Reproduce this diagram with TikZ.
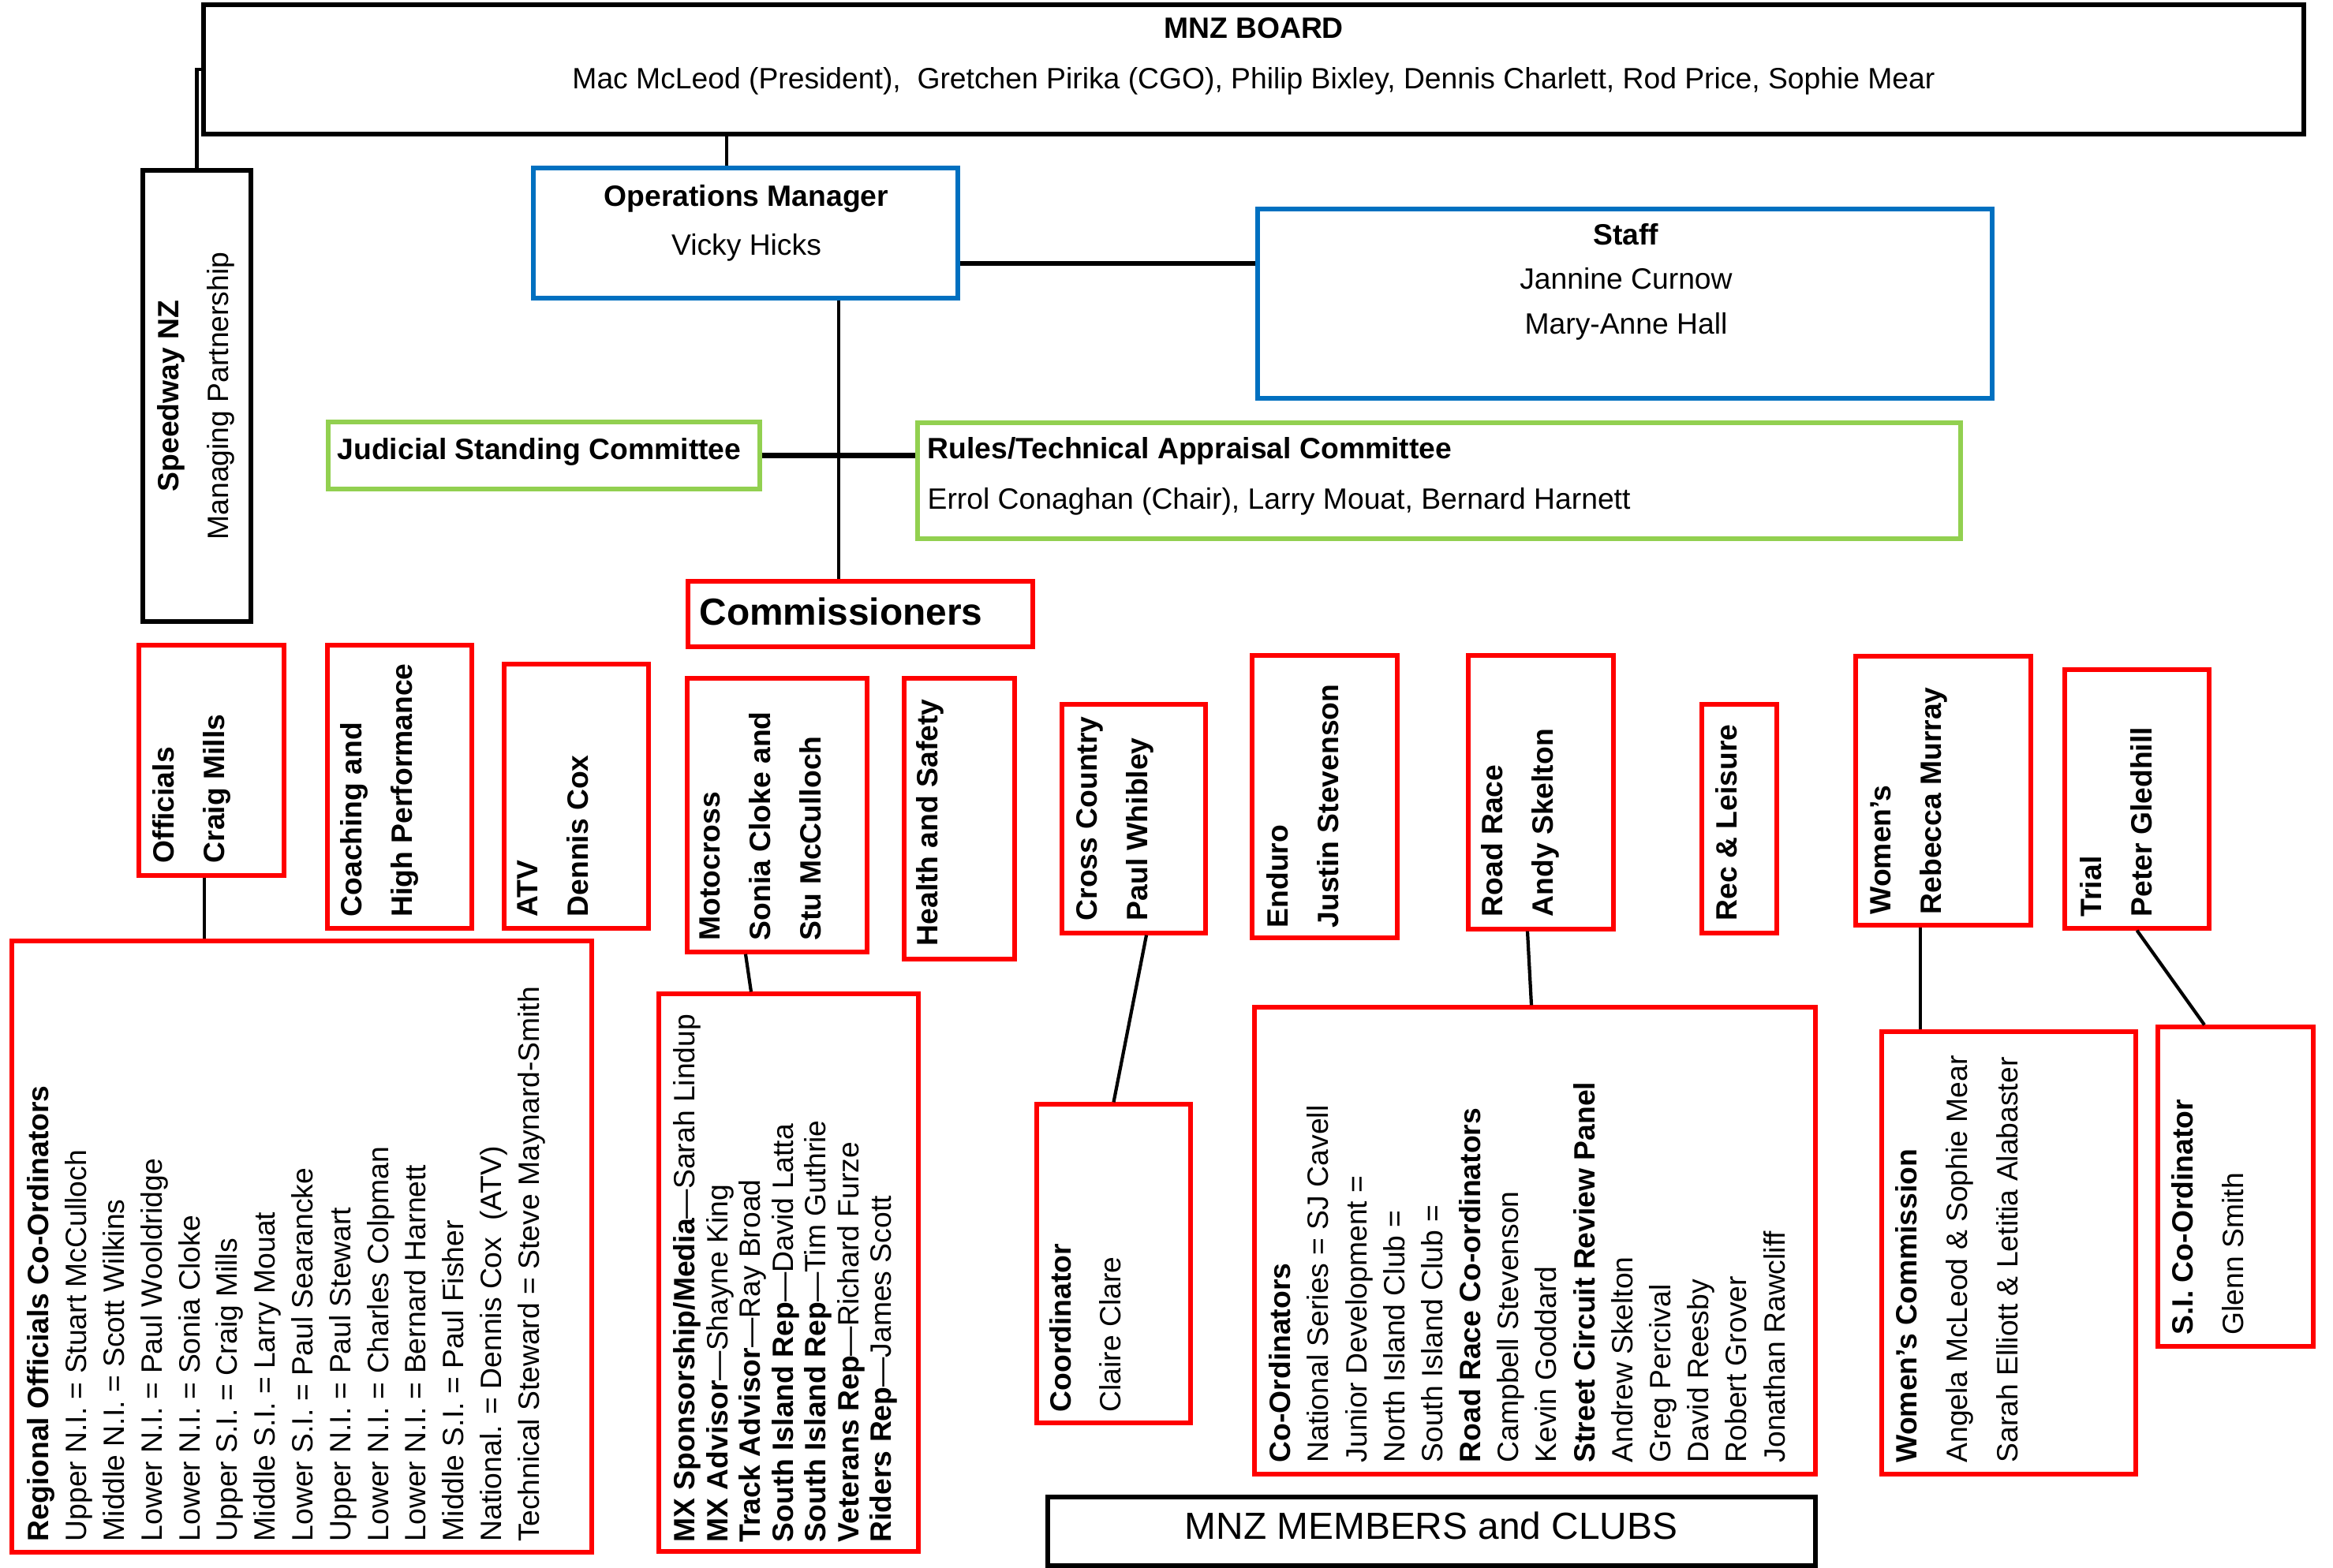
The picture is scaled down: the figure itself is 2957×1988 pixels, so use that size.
\documentclass[tikz,border=0pt]{standalone}
\usepackage{fontspec}
\setmainfont{Liberation Sans}
\usepackage{tikz}
\usetikzlibrary{positioning,calc,fit}
\definecolor{mnzred}{RGB}{255,0,0}
\definecolor{mnzblue}{RGB}{0,112,192}
\definecolor{mnzgreen}{RGB}{146,208,80}
\newcommand{\fsz}[2]{\fontsize{#1}{#2}\selectfont}

\begin{document}
\begin{tikzpicture}[
    x=0.01cm, y=-0.01cm,
    box/.style={draw, line width=1.5pt, inner sep=0pt},
    redbox/.style={box, draw=mnzred},
    bluebox/.style={box, draw=mnzblue},
    greenbox/.style={box, draw=mnzgreen},
    blackbox/.style={box, draw=black, line width=1.7pt},
    htext/.style={inner sep=0pt, font=\fsz{10.6}{18.2}},
    vtext/.style={rotate=90, anchor=north west, align=left, inner sep=0pt, font=\fsz{10.6}{18.2}\bfseries},
    link/.style={line width=1.2pt},
    thicklink/.style={line width=1.8pt}
]
    \useasboundingbox (0,0) rectangle (2957,1988);

    \node[blackbox, fit={(258,6) (2920,170)}] (board) {};
    \node[htext, align=center] (boardT) at (1589,71) {\textbf{MNZ BOARD}\\Mac McLeod (President),~ Gretchen Pirika (CGO), Philip Bixley, Dennis Charlett, Rod Price, Sophie Mear};

    \node[blackbox, fit={(181,216) (318,788)}] (speedway) {};
    \node[vtext, anchor=center, align=center, font=\fsz{10.6}{17.9}] (speedwayT) at (248,502) {\textbf{Speedway NZ}\\Managing Partnership};

    \node[bluebox, fit={(676,213) (1214,378)}] (ops) {};
    \node[htext, align=center, font=\fsz{10.6}{17.6}] (opsT) at (946,283) {\textbf{Operations Manager}\\Vicky Hicks};

    \node[bluebox, fit={(1594,265) (2525,505)}] (staff) {};
    \node[htext, align=center, font=\fsz{10.6}{16.1}] (staffT) at (2061,357) {\textbf{Staff}\\Jannine Curnow\\Mary-Anne Hall};

    \node[greenbox, fit={(416,535) (963,620)}] (judicial) {};
    \node[htext, anchor=west, font=\fsz{10.6}{18.2}\bfseries] (judicialT) at (427,573) {Judicial Standing Committee};

    \node[greenbox, fit={(1163,536) (2485,683)}] (rules) {};
    \node[htext, anchor=west, align=left] (rulesT) at (1175,604) {\textbf{Rules/Technical Appraisal Committee}\\Errol Conaghan (Chair), Larry Mouat, Bernard Harnett};

    \node[redbox, fit={(872,737) (1309,820)}] (comm) {};
    \node[htext, anchor=west, font=\fsz{13.6}{16}\bfseries] (commT) at (886,775) {Commissioners};

    \node[redbox, fit={(176,818) (360,1110)}] (officials) {};
    \node[vtext] (officialsT) at (193,1095) {Officials\\Craig Mills};
    \node[redbox, fit={(415,818) (598,1177)}] (coaching) {};
    \node[vtext] (coachingT) at (431,1163) {Coaching and\\High Performance};
    \node[redbox, fit={(639,842) (822,1177)}] (atv) {};
    \node[vtext] (atvT) at (655,1163) {ATV\\Dennis Cox};
    \node[redbox, fit={(871,860) (1099,1207)}] (motocross) {};
    \node[vtext] (motocrossT) at (886,1193) {Motocross\\Sonia Cloke and\\Stu McCulloch};
    \node[redbox, fit={(1146,860) (1286,1216)}] (health) {};
    \node[vtext] (healthT) at (1161,1200) {Health and Safety};
    \node[redbox, fit={(1346,893) (1528,1183)}] (cross) {};
    \node[vtext] (crossT) at (1364,1168) {Cross Country\\Paul Whibley};
    \node[redbox, fit={(1587,831) (1771,1189)}] (enduro) {};
    \node[vtext] (enduroT) at (1605,1177) {Enduro\\Justin Stevenson};
    \node[redbox, fit={(1861,831) (2045,1178)}] (roadrace) {};
    \node[vtext] (roadraceT) at (1877,1163) {Road Race\\Andy Skelton};
    \node[redbox, fit={(2157,893) (2252,1183)}] (rec) {};
    \node[vtext] (recT) at (2174,1168) {Rec \& Leisure};
    \node[redbox, fit={(2352,832) (2574,1173)}] (womens) {};
    \node[vtext] (womensT) at (2370,1160) {Women’s\\Rebecca Murray};
    \node[redbox, fit={(2617,849) (2800,1177)}] (trial) {};
    \node[vtext] (trialT) at (2636,1163) {Trial\\Peter Gledhill};

    \node[redbox, fit={(15,1193) (750,1968)}] (regional) {};
    \node[vtext, font=\fsz{10.6}{13.6}] (regionalT) at (34,1955) {\textbf{Regional Officials Co-Ordinators}\\
        Upper N.I. = Stuart McCulloch\\
        Middle N.I. = Scott Wilkins\\
        Lower N.I. = Paul Wooldridge\\
        Lower N.I. = Sonia Cloke\\
        Upper S.I. = Craig Mills\\
        Middle S.I. = Larry Mouat\\
        Lower S.I. = Paul Searancke\\
        Upper N.I. = Paul Stewart\\
        Lower N.I. = Charles Colpman\\
        Lower N.I. = Bernard Harnett\\
        Middle S.I. = Paul Fisher\\
        National. = Dennis Cox~ (ATV)\\
        Technical Steward = Steve Maynard-Smith};

    \node[redbox, fit={(835,1260) (1164,1967)}] (mxlist) {};
    \node[vtext, font=\fsz{10.6}{11.8}] (mxlistT) at (853,1956) {\textbf{MX Sponsorship/Media}—Sarah Lindup\\
        \textbf{MX Advisor}—Shayne King\\
        \textbf{Track Advisor}—Ray Broad\\
        \textbf{South Island Rep}—David Latta\\
        \textbf{South Island Rep}—Tim Guthrie\\
        \textbf{Veterans Rep}—Richard Furze\\
        \textbf{Riders Rep}—James Scott};

    \node[redbox, fit={(1314,1400) (1509,1804)}] (coordinator) {};
    \node[vtext, font=\fsz{10.6}{17.9}] (coordinatorT) at (1330,1791) {\textbf{Coordinator}\\Claire Clare};

    \node[redbox, fit={(1590,1277) (2301,1869)}] (rrlist) {};
    \node[vtext, font=\fsz{10.6}{13.7}] (rrlistT) at (1608,1855) {\textbf{Co-Ordinators}\\
        National Series = SJ Cavell\\
        Junior Development =\\
        North Island Club =\\
        South Island Club =\\
        \textbf{Road Race Co-ordinators}\\
        Campbell Stevenson\\
        Kevin Goddard\\
        \textbf{Street Circuit Review Panel}\\
        Andrew Skelton\\
        Greg Percival\\
        David Reesby\\
        Robert Grover\\
        Jonathan Rawcliff};

    \node[redbox, fit={(2385,1308) (2707,1869)}] (wcomm) {};
    \node[vtext, font=\fsz{10.6}{18.2}] (wcommT) at (2402,1855) {\textbf{Women’s Commission}\\Angela McLeod \& Sophie Mear\\Sarah Elliott \& Letitia Alabaster};

    \node[redbox, fit={(2735,1302) (2932,1707)}] (sico) {};
    \node[vtext, font=\fsz{10.6}{18.2}] (sicoT) at (2752,1693) {\textbf{S.I. Co-Ordinator}\\Glenn Smith};

    \node[blackbox, fit={(1328,1898) (2301,1985)}] (members) {};
    \node[htext, font=\fsz{13.6}{16}] (membersT) at (1814,1934) {MNZ MEMBERS and CLUBS};

    \draw[link] (speedway.north) |- (board.west);
    \coordinate (boardOut) at ([xshift=-0.24cm]ops.north);
    \draw[link] (boardOut |- board.south) -- (boardOut);
    \coordinate (staffOut) at ([yshift=-0.385cm]ops.east);
    \draw[thicklink] (staffOut) -- (staffOut -| staff.west);
    \coordinate (commOut) at ([xshift=1.18cm]ops.south);
    \draw[link] (commOut) -- (commOut |- comm.north);
    \draw[thicklink] (judicial.east) -- (judicial.east -| rules.west);

    \coordinate (officialsOut) at ([xshift=-0.09cm]officials.south);
    \draw[link] (officialsOut) -- (officialsOut |- regional.north);
    \draw[link] ([xshift=-0.40cm]motocross.south) -- ([xshift=-0.475cm]mxlist.north);
    \draw[link] ([xshift=0.16cm]cross.south) -- (coordinator.north);
    \draw[link] ([xshift=-0.17cm]roadrace.south) -- ([xshift=-0.045cm]rrlist.north);
    \coordinate (womensOut) at ([xshift=-0.29cm]womens.south);
    \draw[link] (womensOut) -- (womensOut |- wcomm.north);
    \draw[link] (trial.south) -- ([xshift=-0.395cm]sico.north);
\end{tikzpicture}
\end{document}
